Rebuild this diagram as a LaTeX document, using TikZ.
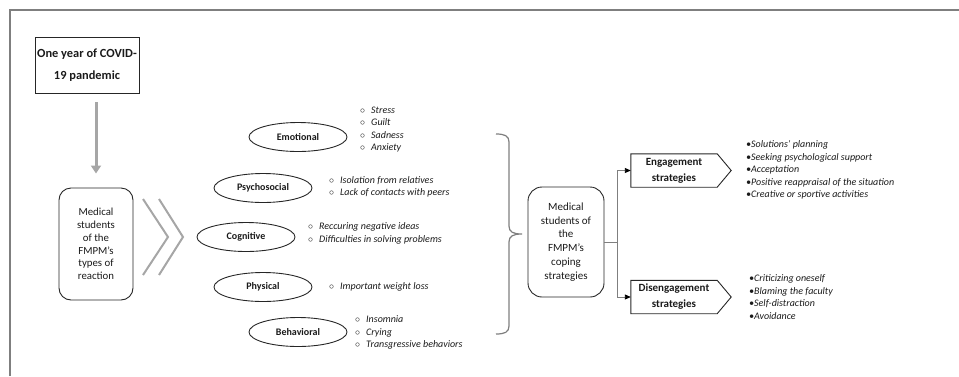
\documentclass[tikz,border=0pt]{standalone}
\usepackage{fontspec}
\setmainfont{Carlito}
\usetikzlibrary{shapes.geometric, arrows.meta}
\definecolor{FrameGray}{HTML}{7F7F7F}
\definecolor{ArrowGray}{HTML}{A6A6A6}
\definecolor{BoxLine}{HTML}{262626}
\definecolor{TextDark}{HTML}{1A1A1A}
\newcommand{\obul}{\makebox[11pt][l]{$\circ$}}

\begin{document}
\begin{tikzpicture}[x=1pt, y=-1pt,
    every node/.style={text=TextDark},
    ellbox/.style={ellipse, draw=BoxLine, line width=0.9pt, minimum width=98pt, minimum height=29pt, inner sep=0pt, font=\fontsize{10}{12}\selectfont\bfseries},
    roundbox/.style={rectangle, rounded corners=12pt, draw=BoxLine, line width=0.9pt, inner sep=0pt, align=center},
    listtext/.style={anchor=west, inner sep=0pt, align=left, font=\fontsize{10}{12.5}\selectfont\itshape},
    stratbox/.style={rectangle, minimum width=86pt, minimum height=33pt, inner sep=0pt, align=center, font=\fontsize{11}{16}\selectfont\bfseries},
    conn/.style={FrameGray, line width=0.9pt}]
                \useasboundingbox (0,0) rectangle (959,376);
                % Frame
                \draw[FrameGray, line width=1.5pt] (10,376) -- (10,10) -- (959,10);
                
                % Start box and first group
                \node[draw=BoxLine, line width=0.9pt, minimum width=104pt, minimum height=56pt, inner sep=0pt, align=center, font=\fontsize{12.4}{22}\selectfont\bfseries] (pandemic) at (87,65) {One year of COVID-\\19 pandemic};
                \node[roundbox, minimum width=74pt, minimum height=112pt, font=\fontsize{10.8}{12.8}\selectfont] (types) at (96,244) {Medical\\students\\of the\\FMPM’s\\types of\\reaction};
                \draw[ArrowGray, line width=3pt, -{Triangle[length=8pt,width=10pt]}, shorten <=9pt, shorten >=14pt] (types.north |- pandemic.south) -- (types.north);
                
                % Chevrons
                \draw[ArrowGray, line width=2pt] (143,199) -- (168,237) -- (143,275);
                \draw[ArrowGray, line width=2pt] (159,199) -- (183,237) -- (159,275);
                
                % Types of reaction
                \node[ellbox] (emotional) at (298,137) {Emotional};
                \node[ellbox] (psycho) at (263,188) {Psychosocial};
                \node[ellbox] (cognitive) at (246,237) {Cognitive};
                \node[ellbox] (physical) at (263,287) {Physical};
                \node[ellbox] (behavioral) at (298,332) {Behavioral};
                
                % Lists of reactions
                \node[listtext] (emolist) at (360,129.5) {\obul Stress\\\obul Guilt\\\obul Sadness\\\obul Anxiety};
                \node[listtext] (psylist) at (329,187) {\obul Isolation from relatives\\\obul Lack of contacts with peers};
                \node[listtext] (coglist) at (308,233.5) {\obul Reccuring negative ideas\\\obul Difficulties in solving problems};
                \node[listtext] (phylist) at (329,287) {\obul Important weight loss};
                \node[listtext] (behlist) at (355,332.5) {\obul Insomnia\\\obul Crying\\\obul Transgressive behaviors};
                
                % Brace
                \draw[FrameGray, line width=1.2pt] (496,134) .. controls (505,134) and (509,136) .. (509,142) -- (509,226) .. controls (509,232) and (513,234) .. (522,234) .. controls (513,234) and (509,236) .. (509,242) -- (509,326) .. controls (509,332) and (505,334) .. (496,334);
                
                % Coping strategies
                \node[roundbox, rounded corners=14pt, minimum width=76pt, minimum height=110pt, font=\fontsize{11}{13.8}\selectfont] (coping) at (566,242) {Medical\\students of\\the\\FMPM’s\\coping\\strategies};
                \coordinate (split) at (617,242);
                \node[stratbox] (engage) at (674,170.5) {Engagement\\strategies};
                \node[stratbox] (disengage) at (674,297) {Disengagement\\strategies};
                \draw[BoxLine, line width=0.9pt] (engage.south west) -- (engage.north west) -- (engage.north east) -- ([xshift=14pt]engage.east) -- (engage.south east) -- cycle;
                \draw[BoxLine, line width=0.9pt] (disengage.south west) -- (disengage.north west) -- (disengage.north east) -- ([xshift=14pt]disengage.east) -- (disengage.south east) -- cycle;
                \draw[conn] (coping.east) -- (split);
                \draw[conn, -{Triangle[length=6pt,width=5pt,color=black]}] (split) |- (engage.west);
                \draw[conn, -{Triangle[length=6pt,width=5pt,color=black]}] (split) |- (disengage.west);
                
                % Lists of strategies
                \node[listtext] (englist) at (746,170) {•Solutions’ planning\\•Seeking psychological support\\•Acceptation\\•Positive reappraisal of the situation\\•Creative or sportive activities};
                \node[listtext] (dislist) at (749,297) {•Criticizing oneself\\•Blaming the faculty\\•Self-distraction\\•Avoidance};
            \end{tikzpicture}
\end{document}
